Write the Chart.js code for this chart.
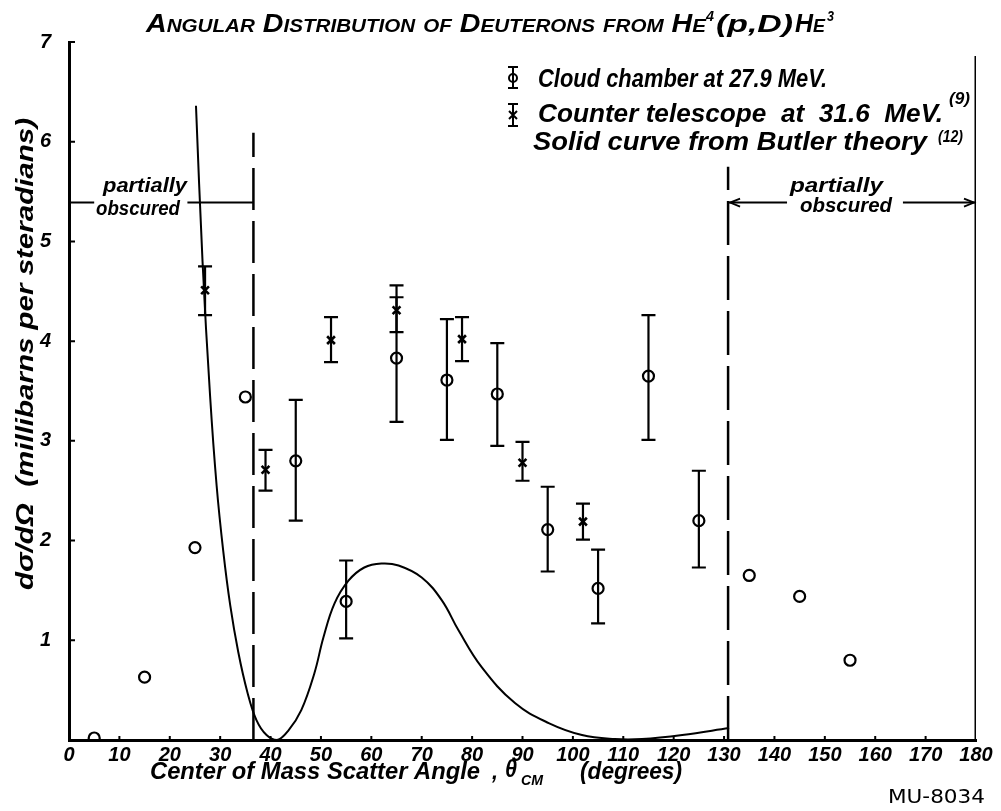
<!DOCTYPE html>
<html>
<head>
<meta charset="utf-8">
<script src="https://cdn.jsdelivr.net/npm/chart.js@4.4.1/dist/chart.umd.min.js"></script>
<style>
  html, body { margin: 0; padding: 0; background: #fff; }
</style>
</head>
<body>
<canvas id="chart" width="1001" height="811"></canvas>
<script>
// cloud chamber at 27.9 MeV (open circles)
const cloudAngle = [5, 15, 25, 35, 45, 55, 65, 75, 85, 95, 105, 115, 125, 135, 145, 155];
const cloudValue = [0.02, 0.63, 1.93, 3.44, 2.80, 1.39, 3.83, 3.61, 3.47, 2.11, 1.52, 3.65, 2.20, 1.65, 1.44, 0.80];
const cloudHigh = [null, null, null, null, 3.41, 1.80, 4.44, 4.22, 3.98, 2.54, 1.91, 4.26, 2.70, null, null, null];
const cloudLow = [null, null, null, null, 2.20, 1.02, 3.19, 3.01, 2.95, 1.69, 1.17, 3.01, 1.73, null, null, null];

// counter telescope at 31.6 MeV (crosses)
const counterAngle = [27, 39, 52, 65, 78, 90, 102];
const counterValue = [4.51, 2.71, 4.01, 4.31, 4.02, 2.78, 2.19];
const counterHigh = [4.75, 2.91, 4.24, 4.56, 4.24, 2.99, 2.37];
const counterLow = [4.26, 2.50, 3.79, 4.09, 3.80, 2.60, 2.01];

// solid curve from Butler theory
const butlerAngle = [25.2, 26.5, 28.0, 29.3, 30.6, 32.0, 33.6, 35.4, 37.2, 39.2, 41.3, 43.6, 46.1, 48.7, 50.5, 52.7, 55.5, 58.6, 62.0, 65.4, 70.0, 74.0, 77.3, 81.9, 88.5, 95.2, 101.8, 108.3, 113.7, 121.7, 131.0];
const butlerValue = [6.36, 4.80, 3.45, 2.55, 1.90, 1.35, 0.88, 0.48, 0.20, 0.05, 0.0, 0.10, 0.30, 0.67, 1.03, 1.37, 1.60, 1.73, 1.77, 1.75, 1.63, 1.40, 1.10, 0.73, 0.37, 0.17, 0.05, 0.01, 0.01, 0.05, 0.12];

// tick labels
const xTickLabels = ['0', '10', '20', '30', '40', '50', '60', '70', '80', '90', '100', '110', '120', '130', '140', '150', '160', '170', '180'];
const yTickLabels = ['', '1', '2', '3', '4', '5', '6', '7'];

// "partially obscured" limits (degrees) and heights
const obscuredLeft = 36.6;
const obscuredRight = 130.8;
const obscuredLevel = 5.39;
const leftDashTop = 6.09;
const rightDashTop = 5.75;
const frameTop = 6.86;

const HAND = '"Liberation Sans Narrow", "Liberation Sans", Arial, sans-serif';

function pts(xs, ys) {
  return xs.map((x, i) => ({ x: x, y: ys[i] }));
}

// draw text squeezed/stretched to a given width, starting at x (left)
function fitText(ctx, str, x, y, w, font) {
  ctx.font = font;
  const m = ctx.measureText(str).width;
  ctx.save();
  ctx.translate(x, y);
  ctx.scale(w / m, 1);
  ctx.textAlign = 'left';
  ctx.textBaseline = 'alphabetic';
  ctx.fillText(str, 0, 0);
  ctx.restore();
}

function errBar(ctx, px, top, bottom, cap) {
  ctx.beginPath();
  ctx.moveTo(px, top); ctx.lineTo(px, bottom);
  ctx.moveTo(px - cap, top); ctx.lineTo(px + cap, top);
  ctx.moveTo(px - cap, bottom); ctx.lineTo(px + cap, bottom);
  ctx.stroke();
}

const errorBars = {
  id: 'errorBars',
  beforeDatasetsDraw(chart) {
    const { ctx, scales: { x, y } } = chart;
    ctx.save();
    ctx.strokeStyle = '#000';
    ctx.lineWidth = 2.2;
    cloudAngle.forEach((a, i) => {
      if (cloudHigh[i] == null) return;
      errBar(ctx, x.getPixelForValue(a), y.getPixelForValue(cloudHigh[i]), y.getPixelForValue(cloudLow[i]), 7);
    });
    counterAngle.forEach((a, i) => {
      errBar(ctx, x.getPixelForValue(a), y.getPixelForValue(counterHigh[i]), y.getPixelForValue(counterLow[i]), 7);
    });
    ctx.restore();
  }
};

const decorations = {
  id: 'decorations',
  afterDraw(chart) {
    const { ctx, chartArea: area, scales: { x, y } } = chart;
    ctx.save();
    ctx.fillStyle = '#000';
    ctx.strokeStyle = '#000';

    // inward tick marks
    ctx.lineWidth = 2;
    ctx.beginPath();
    for (let v = 1; v <= 7; v++) {
      const py = y.getPixelForValue(v);
      ctx.moveTo(area.left, py); ctx.lineTo(area.left + 6, py);
    }
    for (let v = 10; v < 180; v += 10) {
      const px = x.getPixelForValue(v);
      ctx.moveTo(px, area.bottom); ctx.lineTo(px, area.bottom - 4);
    }
    ctx.stroke();

    // arrow heads for right "partially obscured"
    const ay = y.getPixelForValue(obscuredLevel);
    const axL = x.getPixelForValue(obscuredRight);
    const axR = x.getPixelForValue(180);
    ctx.lineWidth = 1.8;
    ctx.beginPath();
    ctx.moveTo(axL + 12, ay - 4); ctx.lineTo(axL + 2, ay); ctx.lineTo(axL + 12, ay + 4);
    ctx.moveTo(axR - 12, ay - 4); ctx.lineTo(axR - 2, ay); ctx.lineTo(axR - 12, ay + 4);
    ctx.stroke();

    const f20 = 'italic bold 21px ' + HAND;
    // annotations
    fitText(ctx, 'partially', 103, 192, 84, f20);
    fitText(ctx, 'obscured', 96, 215, 84, f20);
    fitText(ctx, 'partially', 790, 192, 93, f20);
    fitText(ctx, 'obscured', 800, 212, 92, f20);

    // title
    const tf = 'italic small-caps bold 25px ' + HAND;
    fitText(ctx, 'Angular Distribution of Deuterons from He', 146, 32, 560, tf);
    fitText(ctx, '4', 706, 21, 8, 'italic bold 14px ' + HAND);
    fitText(ctx, '(p,D)', 716, 32, 77, 'italic bold 24px ' + HAND);
    fitText(ctx, 'He', 795, 32, 30, tf);
    fitText(ctx, '3', 827, 21, 7, 'italic bold 14px ' + HAND);

    // legend
    const lf = 'italic bold 25px ' + HAND;
    ctx.lineWidth = 2;
    errBar(ctx, 513, 67, 88, 5);
    ctx.beginPath(); ctx.arc(513, 78, 4, 0, Math.PI * 2); ctx.stroke();
    fitText(ctx, 'Cloud chamber at 27.9 MeV.', 538, 87, 289, lf);
    errBar(ctx, 513, 104, 126, 5);
    ctx.beginPath();
    ctx.moveTo(509, 111); ctx.lineTo(517, 119); ctx.moveTo(517, 111); ctx.lineTo(509, 119);
    ctx.stroke();
    fitText(ctx, 'Counter telescope  at  31.6  MeV.', 538, 122, 405, lf);
    fitText(ctx, '(9)', 949, 104, 21, 'italic bold 16px ' + HAND);
    fitText(ctx, 'Solid curve from Butler theory', 533, 150, 394, lf);
    fitText(ctx, '(12)', 938, 142, 25, 'italic bold 16px ' + HAND);

    // x axis title
    const xf = 'italic bold 24px ' + HAND;
    fitText(ctx, 'Center of Mass Scatter Angle', 150, 779, 330, xf);
    fitText(ctx, ',', 492, 779, 6, xf);
    fitText(ctx, '\u03b8', 505, 777, 12, xf);
    fitText(ctx, 'CM', 521, 785, 22, 'italic bold 14px ' + HAND);
    fitText(ctx, '(degrees)', 580, 779, 102, xf);

    // y axis title (rotated)
    ctx.save();
    ctx.translate(33, 590);
    ctx.rotate(-Math.PI / 2);
    fitText(ctx, 'd\u03c3/d\u03a9  (millibarns per steradians)', 0, 0, 472, 'italic bold 24px ' + HAND);
    ctx.restore();

    // plate number
    fitText(ctx, 'MU-8034', 888, 803, 97, '19px "DejaVu Sans", sans-serif');
    ctx.restore();
  }
};

const tickFont = { family: HAND, size: 20, style: 'italic', weight: 'bold' };

new Chart(document.getElementById('chart'), {
  type: 'scatter',
  data: {
    datasets: [
      {
        label: 'Cloud chamber at 27.9 MeV',
        data: pts(cloudAngle, cloudValue),
        pointStyle: 'circle',
        pointRadius: 5.5,
        pointBorderWidth: 2.2,
        pointBorderColor: '#000',
        pointBackgroundColor: 'rgba(255,255,255,0)'
      },
      {
        label: 'Counter telescope at 31.6 MeV',
        data: pts(counterAngle, counterValue),
        pointStyle: 'crossRot',
        pointRadius: 5.5,
        pointBorderWidth: 2.6,
        pointBorderColor: '#000'
      },
      {
        label: 'Butler theory',
        data: pts(butlerAngle, butlerValue),
        showLine: true,
        pointRadius: 0,
        borderColor: '#000',
        borderWidth: 2,
        tension: 0.4
      },
      {
        label: 'obscured limit left',
        data: [{ x: obscuredLeft, y: 0 }, { x: obscuredLeft, y: leftDashTop }],
        showLine: true, pointRadius: 0, borderColor: '#000', borderWidth: 2.5, borderDash: [42, 11]
      },
      {
        label: 'obscured limit right',
        data: [{ x: obscuredRight, y: 0 }, { x: obscuredRight, y: rightDashTop }],
        showLine: true, pointRadius: 0, borderColor: '#000', borderWidth: 2.5, borderDash: [44, 11]
      },
      {
        label: 'frame right',
        data: [{ x: 180, y: 0 }, { x: 180, y: frameTop }],
        showLine: true, pointRadius: 0, borderColor: '#000', borderWidth: 3
      },
      {
        label: 'obscured arrow left',
        data: [{ x: 0, y: obscuredLevel }, { x: 5.0, y: obscuredLevel }, { x: 12, y: null }, { x: 23.5, y: obscuredLevel }, { x: obscuredLeft, y: obscuredLevel }],
        showLine: true, spanGaps: false, pointRadius: 0, borderColor: '#000', borderWidth: 2
      },
      {
        label: 'obscured arrow right',
        data: [{ x: obscuredRight, y: obscuredLevel }, { x: 142.5, y: obscuredLevel }, { x: 150, y: null }, { x: 165.5, y: obscuredLevel }, { x: 180, y: obscuredLevel }],
        showLine: true, spanGaps: false, pointRadius: 0, borderColor: '#000', borderWidth: 2
      }
    ]
  },
  options: {
    responsive: false,
    devicePixelRatio: 1,
    animation: false,
    layout: { padding: { top: 42, right: 25, left: 0, bottom: 0 } },
    plugins: { legend: { display: false }, tooltip: { enabled: false } },
    scales: {
      x: {
        type: 'linear',
        min: 0,
        max: 180,
        afterFit(scale) { scale.height = 71; },
        grid: { display: false, drawTicks: false },
        border: { display: true, color: '#000', width: 3 },
        ticks: {
          stepSize: 10,
          autoSkip: false,
          maxRotation: 0,
          padding: 3,
          color: '#000',
          font: tickFont,
          callback: (v, i) => xTickLabels[i]
        }
      },
      y: {
        min: 0,
        max: 7,
        afterFit(scale) { scale.width = 69; },
        grid: { display: false, drawTicks: false },
        border: { display: true, color: '#000', width: 3 },
        ticks: {
          stepSize: 1,
          padding: 18,
          color: '#000',
          font: tickFont,
          callback: (v, i) => yTickLabels[i]
        }
      }
    }
  },
  plugins: [errorBars, decorations]
});
</script>
</body>
</html>
